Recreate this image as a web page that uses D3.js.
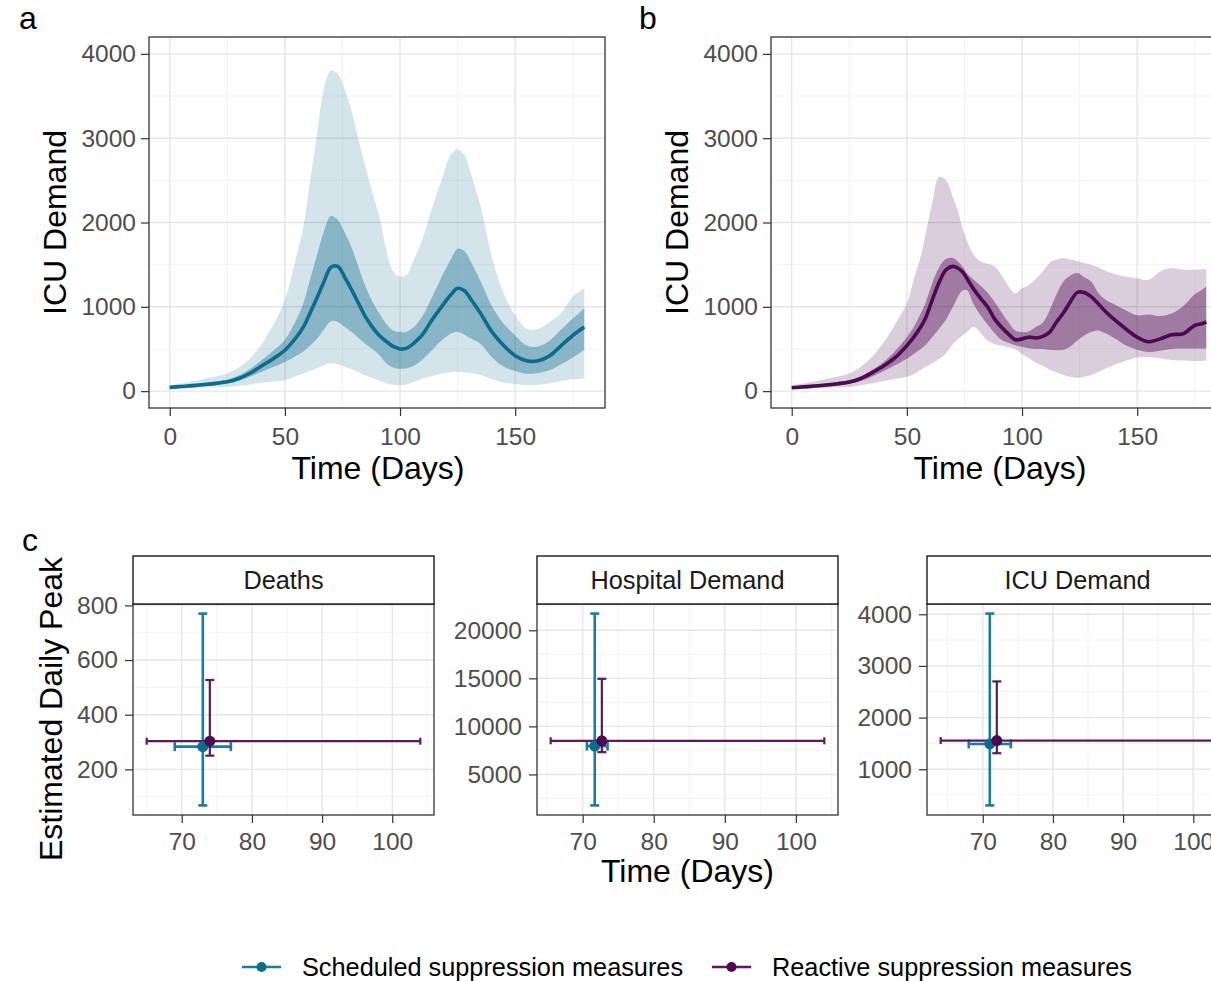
<!DOCTYPE html>
<html>
<head>
<meta charset="utf-8">
<script src="https://cdn.jsdelivr.net/npm/d3@7"></script>
<style>
  body { margin: 0; background: #fff; }
  svg { display: block; font-family: "Liberation Sans", Arial, sans-serif; }
</style>
</head>
<body>
<div id="chart"></div>
<script>
// ---- panel a: scheduled suppression, ICU demand over time ----
const A_DAYS   = [0, 5, 10, 15, 20, 25, 30, 35, 40, 45, 50, 55, 58, 61, 64, 67, 70, 73, 76, 79, 82, 85, 88, 91, 94, 97, 100, 103, 106, 110, 114, 118, 122, 125, 128, 131, 135, 140, 145, 150, 155, 160, 165, 170, 175, 180];
const A_MEDIAN = [45, 55, 65, 78, 92, 110, 150, 215, 300, 385, 485, 640, 760, 930, 1110, 1300, 1470, 1480, 1350, 1200, 1040, 880, 760, 660, 590, 530, 500, 510, 570, 680, 850, 1000, 1140, 1220, 1190, 1080, 920, 700, 540, 420, 360, 360, 420, 540, 660, 760];
const A_LO50   = [35, 42, 50, 60, 72, 90, 125, 175, 230, 285, 345, 420, 470, 540, 620, 730, 830, 820, 760, 700, 630, 560, 500, 430, 330, 280, 265, 270, 300, 380, 490, 600, 680, 700, 670, 620, 560, 400, 290, 240, 205, 215, 250, 320, 400, 490];
const A_HI50   = [60, 70, 82, 98, 115, 135, 185, 265, 370, 480, 610, 850, 1040, 1330, 1620, 1900, 2080, 2030, 1880, 1700, 1470, 1240, 1060, 920, 800, 720, 700, 705, 760, 900, 1120, 1350, 1560, 1690, 1660, 1520, 1300, 1000, 800, 660, 540, 530, 600, 730, 860, 980];
const A_LO95   = [25, 30, 35, 40, 45, 50, 65, 80, 100, 115, 130, 180, 210, 240, 270, 310, 330, 320, 290, 260, 225, 185, 155, 125, 95, 75, 70, 80, 110, 150, 180, 210, 225, 230, 225, 215, 190, 140, 100, 85, 70, 75, 95, 120, 140, 150];
const A_HI95   = [70, 90, 115, 145, 175, 210, 280, 390, 560, 790, 1080, 1600, 1950, 2500, 3050, 3600, 3800, 3760, 3580, 3320, 2980, 2660, 2350, 2070, 1680, 1420, 1360, 1380, 1560, 1820, 2180, 2500, 2800, 2870, 2800, 2560, 2190, 1580, 1160, 900, 740, 740, 820, 930, 1120, 1220];

// ---- panel b: reactive suppression, ICU demand over time ----
const B_DAYS   = [0, 5, 10, 15, 20, 25, 30, 35, 40, 45, 50, 53, 56, 58, 61, 64, 67, 70, 72, 74, 76, 79, 82, 85, 88, 91, 94, 97, 100, 103, 106, 109, 112, 115, 118, 121, 124, 127, 130, 133, 136, 140, 145, 150, 155, 160, 165, 170, 175, 178, 180];
const B_MEDIAN = [40, 50, 60, 72, 88, 108, 150, 220, 300, 400, 540, 640, 760, 860, 1080, 1290, 1440, 1480, 1460, 1420, 1340, 1210, 1100, 1000, 860, 760, 680, 610, 620, 640, 630, 650, 700, 820, 930, 1060, 1170, 1170, 1120, 1040, 950, 850, 740, 640, 585, 620, 670, 680, 780, 800, 820];
const B_LO50   = [30, 38, 46, 56, 68, 85, 120, 175, 240, 310, 385, 440, 500, 545, 640, 740, 850, 1000, 1110, 1190, 1200, 1030, 900, 790, 690, 610, 575, 545, 525, 510, 500, 500, 490, 485, 490, 530, 600, 660, 700, 720, 690, 630, 545, 490, 465, 480, 500, 505, 505, 505, 505];
const B_HI50   = [55, 65, 78, 92, 108, 128, 175, 255, 350, 480, 640, 760, 920, 1040, 1280, 1470, 1570, 1580, 1540, 1480, 1400, 1320, 1250, 1170, 1060, 940, 820, 720, 700, 710, 760, 810, 960, 1150, 1300, 1370, 1400, 1350, 1300, 1170, 1090, 1030, 960, 900, 910, 890, 920, 1010, 1150, 1200, 1240];
const B_LO95   = [25, 30, 35, 40, 45, 50, 70, 95, 120, 145, 170, 200, 250, 285, 330, 380, 450, 560, 610, 660, 700, 760, 690, 600, 560, 540, 520, 500, 440, 390, 340, 300, 255, 220, 190, 170, 158, 170, 195, 225, 265, 310, 360, 400, 405, 390, 370, 362, 356, 358, 362];
const B_HI95   = [70, 90, 115, 145, 175, 210, 290, 410, 580, 800, 1040, 1330, 1600, 1850, 2230, 2540, 2500, 2300, 2150, 1950, 1790, 1620, 1540, 1510, 1480, 1380, 1250, 1160, 1220, 1260, 1330, 1420, 1520, 1560, 1580, 1560, 1540, 1520, 1500, 1470, 1430, 1390, 1360, 1340, 1320, 1420, 1460, 1440, 1440, 1445, 1450];

const TIME_X_TICKS = [0, 50, 100, 150];
const TIME_Y_TICKS = [0, 1000, 2000, 3000, 4000];
const TIME_Y_LIMITS = [0, 4000];

// ---- panel c: estimated daily peak, one facet per outcome ----
const FACETS = ['Deaths', 'Hospital Demand', 'ICU Demand'];
const FACET_Y_TICKS = [[200, 400, 600, 800], [5000, 10000, 15000, 20000], [1000, 2000, 3000, 4000]];
const FACET_X_TICKS = [70, 80, 90, 100];

const SCHED_DAY    = [73, 71.7, 71];
const SCHED_DAY_LO = [69, 70.6, 68];
const SCHED_DAY_HI = [77, 73.5, 74];
const SCHED_PEAK    = [283, 7950, 1490];
const SCHED_PEAK_LO = [68, 1777, 300];
const SCHED_PEAK_HI = [770, 21736, 4013];

const REACT_DAY    = [74, 72.7, 72];
const REACT_DAY_LO = [65, 65.5, 64];
const REACT_DAY_HI = [104, 104, 103];
const REACT_PEAK    = [303, 8500, 1555];
const REACT_PEAK_LO = [250, 7320, 1310];
const REACT_PEAK_HI = [527, 14950, 2700];

const SERIES = ['Scheduled suppression measures', 'Reactive suppression measures'];

const W = 1211, H = 981;
const BLUE = '#0d6b8b', BLUE_BAR = '#1d7b9c';
const PURPLE = '#4c0a50', PURPLE_BAR = '#5b1a5f';
const TEXT_GREY = '#4d4d4d';
const FONT = '"Liberation Sans", Arial, sans-serif';

const svg = d3.select('#chart').append('svg')
  .attr('width', W)
  .attr('height', H);

// ggplot style 5% padding
function expand(lo, hi) {
  const d = (hi - lo) * 0.05;
  return [lo - d, hi + d];
}

function minorBreaks(major, domain) {
  const step = major[1] - major[0];
  const out = [];
  for (let v = major[0] - step / 2; v <= domain[1]; v += step) {
    if (v >= domain[0]) out.push(v);
  }
  return out;
}

function styleAxis(g, fontSize) {
  g.select('.domain').remove();
  g.attr('font-family', FONT).attr('font-size', fontSize);
  g.selectAll('.tick line').attr('stroke', '#333').attr('stroke-width', 1.2);
  g.selectAll('.tick text').attr('fill', TEXT_GREY);
}

function drawGrid(g, x, y, xTicks, yTicks) {
  const [x0, x1] = x.range();
  const [y0, y1] = y.range();
  const minor = g.append('g').attr('stroke', '#f0f0f0').attr('stroke-width', 0.8);
  minor.selectAll('.vx').data(minorBreaks(xTicks, x.domain())).enter().append('line')
    .attr('x1', d => x(d)).attr('x2', d => x(d)).attr('y1', y0).attr('y2', y1);
  minor.selectAll('.hy').data(minorBreaks(yTicks, y.domain())).enter().append('line')
    .attr('y1', d => y(d)).attr('y2', d => y(d)).attr('x1', x0).attr('x2', x1);
  const major = g.append('g').attr('stroke', '#e6e6e6').attr('stroke-width', 1.4);
  major.selectAll('.vx').data(xTicks).enter().append('line')
    .attr('x1', d => x(d)).attr('x2', d => x(d)).attr('y1', y0).attr('y2', y1);
  major.selectAll('.hy').data(yTicks).enter().append('line')
    .attr('y1', d => y(d)).attr('y2', d => y(d)).attr('x1', x0).attr('x2', x1);
}

const fmt = d3.format('d');
const smooth = d3.curveCatmullRom.alpha(0.5);

function timePanel(cfg) {
  const top = 37, bottom = 408, width = 456;
  const x = d3.scaleLinear()
    .domain(expand(d3.min(cfg.days), d3.max(cfg.days)))
    .range([cfg.left, cfg.left + width]);
  const y = d3.scaleLinear()
    .domain(expand(...TIME_Y_LIMITS))
    .range([bottom, top]);

  const g = svg.append('g');
  drawGrid(g, x, y, TIME_X_TICKS, TIME_Y_TICKS);

  const rows = cfg.days.map((day, i) => ({
    day,
    med: cfg.med[i],
    lo50: cfg.lo50[i], hi50: cfg.hi50[i],
    lo95: cfg.lo95[i], hi95: cfg.hi95[i],
  }));

  const band = (lo, hi) => d3.area()
    .x(d => x(d.day))
    .y0(d => y(d[lo]))
    .y1(d => y(d[hi]))
    .curve(smooth);

  g.append('path').datum(rows)
    .attr('d', band('lo95', 'hi95'))
    .attr('fill', cfg.color).attr('fill-opacity', cfg.lightAlpha);
  g.append('path').datum(rows)
    .attr('d', band('lo50', 'hi50'))
    .attr('fill', cfg.color).attr('fill-opacity', cfg.darkAlpha);
  g.append('path').datum(rows)
    .attr('d', d3.line().x(d => x(d.day)).y(d => y(d.med)).curve(smooth))
    .attr('fill', 'none')
    .attr('stroke', cfg.color)
    .attr('stroke-width', 3.6)
    .attr('stroke-linejoin', 'round');

  g.append('rect')
    .attr('x', cfg.left).attr('y', top)
    .attr('width', width).attr('height', bottom - top)
    .attr('fill', 'none').attr('stroke', '#333').attr('stroke-width', 1.3);

  g.append('g')
    .attr('transform', `translate(0,${bottom})`)
    .call(d3.axisBottom(x).tickValues(TIME_X_TICKS).tickFormat(fmt).tickSize(8).tickPadding(12))
    .call(a => styleAxis(a, 24.5));
  g.append('g')
    .attr('transform', `translate(${cfg.left},0)`)
    .call(d3.axisLeft(y).tickValues(TIME_Y_TICKS).tickFormat(fmt).tickSize(8).tickPadding(5))
    .call(a => styleAxis(a, 24.5));

  // axis titles
  g.append('text')
    .attr('x', cfg.left + 229).attr('y', 479)
    .attr('text-anchor', 'middle')
    .attr('font-size', 32)
    .text('Time (Days)');
  g.append('text')
    .attr('transform', `translate(${cfg.left - 83},${(top + bottom) / 2}) rotate(-90)`)
    .attr('text-anchor', 'middle')
    .attr('font-size', 32)
    .text('ICU Demand');

  // panel letter
  svg.append('text')
    .attr('x', cfg.letterX).attr('y', 29)
    .attr('font-size', 32)
    .text(cfg.letter);
}

timePanel({
  left: 149, letter: 'a', letterX: 19,
  days: A_DAYS, med: A_MEDIAN, lo50: A_LO50, hi50: A_HI50, lo95: A_LO95, hi95: A_HI95,
  color: BLUE, lightAlpha: 0.18, darkAlpha: 0.38,
});

timePanel({
  left: 771, letter: 'b', letterX: 639,
  days: B_DAYS, med: B_MEDIAN, lo50: B_LO50, hi50: B_HI50, lo95: B_LO95, hi95: B_HI95,
  color: PURPLE, lightAlpha: 0.2, darkAlpha: 0.42,
});

// ---- panel c facets ----
const facetLefts = [133, 537, 927];
const stripTop = 556, plotTop = 604, plotBottom = 815, facetWidth = 301;

FACETS.forEach((name, i) => {
  const left = facetLefts[i];
  const x = d3.scaleLinear()
    .domain(expand(Math.min(SCHED_DAY_LO[i], REACT_DAY_LO[i]), Math.max(SCHED_DAY_HI[i], REACT_DAY_HI[i])))
    .range([left, left + facetWidth]);
  const y = d3.scaleLinear()
    .domain(expand(Math.min(SCHED_PEAK_LO[i], REACT_PEAK_LO[i]), Math.max(SCHED_PEAK_HI[i], REACT_PEAK_HI[i])))
    .range([plotBottom, plotTop]);

  const g = svg.append('g');
  drawGrid(g, x, y, FACET_X_TICKS, FACET_Y_TICKS[i]);

  const points = [
    { day: SCHED_DAY[i], dayLo: SCHED_DAY_LO[i], dayHi: SCHED_DAY_HI[i],
      peak: SCHED_PEAK[i], lo: SCHED_PEAK_LO[i], hi: SCHED_PEAK_HI[i],
      color: BLUE_BAR, dot: BLUE, width: 2.6, cap: 4.5 },
    { day: REACT_DAY[i], dayLo: REACT_DAY_LO[i], dayHi: REACT_DAY_HI[i],
      peak: REACT_PEAK[i], lo: REACT_PEAK_LO[i], hi: REACT_PEAK_HI[i],
      color: PURPLE_BAR, dot: PURPLE, width: 2.2, cap: 3.5 },
  ];

  points.forEach(p => {
    const e = g.append('g').attr('stroke', p.color).attr('stroke-width', p.width);
    // horizontal error bar (peak timing)
    e.append('line').attr('x1', x(p.dayLo)).attr('x2', x(p.dayHi)).attr('y1', y(p.peak)).attr('y2', y(p.peak));
    e.append('line').attr('x1', x(p.dayLo)).attr('x2', x(p.dayLo)).attr('y1', y(p.peak) - p.cap).attr('y2', y(p.peak) + p.cap);
    e.append('line').attr('x1', x(p.dayHi)).attr('x2', x(p.dayHi)).attr('y1', y(p.peak) - p.cap).attr('y2', y(p.peak) + p.cap);
    // vertical error bar (peak size)
    e.append('line').attr('x1', x(p.day)).attr('x2', x(p.day)).attr('y1', y(p.lo)).attr('y2', y(p.hi));
    e.append('line').attr('x1', x(p.day) - 4.5).attr('x2', x(p.day) + 4.5).attr('y1', y(p.lo)).attr('y2', y(p.lo));
    e.append('line').attr('x1', x(p.day) - 4.5).attr('x2', x(p.day) + 4.5).attr('y1', y(p.hi)).attr('y2', y(p.hi));
  });
  points.forEach(p => {
    g.append('circle')
      .attr('cx', x(p.day)).attr('cy', y(p.peak)).attr('r', 5.5)
      .attr('fill', p.dot);
  });

  g.append('rect')
    .attr('x', left).attr('y', plotTop)
    .attr('width', facetWidth).attr('height', plotBottom - plotTop)
    .attr('fill', 'none').attr('stroke', '#333').attr('stroke-width', 1.3);

  // strip
  g.append('rect')
    .attr('x', left).attr('y', stripTop)
    .attr('width', facetWidth).attr('height', plotTop - stripTop)
    .attr('fill', '#fff').attr('stroke', '#1a1a1a').attr('stroke-width', 1.4);
  g.append('text')
    .attr('x', left + facetWidth / 2).attr('y', stripTop + 33)
    .attr('text-anchor', 'middle')
    .attr('font-size', 25.3)
    .attr('fill', '#1a1a1a')
    .text(name);

  g.append('g')
    .attr('transform', `translate(0,${plotBottom})`)
    .call(d3.axisBottom(x).tickValues(FACET_X_TICKS).tickFormat(fmt).tickSize(8).tickPadding(10))
    .call(a => styleAxis(a, 24.5));
  g.append('g')
    .attr('transform', `translate(${left},0)`)
    .call(d3.axisLeft(y).tickValues(FACET_Y_TICKS[i]).tickFormat(fmt).tickSize(8).tickPadding(7))
    .call(a => styleAxis(a, 24.5));
});

svg.append('text')
  .attr('x', 22).attr('y', 551)
  .attr('font-size', 32)
  .text('c');

svg.append('text')
  .attr('x', 687.5).attr('y', 882)
  .attr('text-anchor', 'middle')
  .attr('font-size', 32)
  .text('Time (Days)');

svg.append('text')
  .attr('transform', 'translate(62,709) rotate(-90)')
  .attr('text-anchor', 'middle')
  .attr('font-size', 32)
  .text('Estimated Daily Peak');

// ---- legend ----
const legendItems = [
  { label: SERIES[0], color: BLUE_BAR, dot: BLUE, x: 242 },
  { label: SERIES[1], color: PURPLE_BAR, dot: PURPLE, x: 712 },
];
const legend = svg.append('g');
legendItems.forEach(item => {
  legend.append('line')
    .attr('x1', item.x).attr('x2', item.x + 39)
    .attr('y1', 967).attr('y2', 967)
    .attr('stroke', item.color).attr('stroke-width', 2.4);
  legend.append('circle')
    .attr('cx', item.x + 19.5).attr('cy', 967).attr('r', 5)
    .attr('fill', item.dot);
  legend.append('text')
    .attr('x', item.x + 60).attr('y', 976)
    .attr('font-size', 25.3)
    .text(item.label);
});
</script>
</body>
</html>
